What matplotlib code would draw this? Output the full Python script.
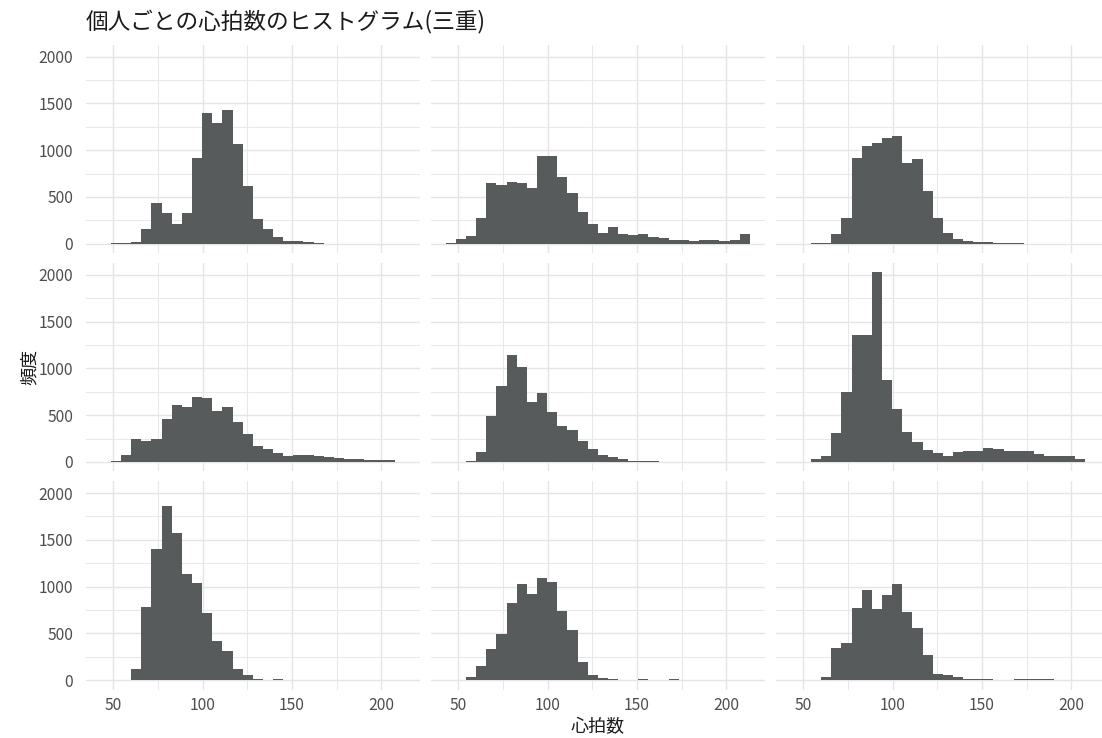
import numpy as np
import matplotlib.pyplot as plt
from matplotlib.ticker import MultipleLocator

plt.rcParams['font.family'] = ['Noto Sans CJK JP', 'DejaVu Sans']

# shared bins (30 bins over the pooled range, same for every panel)
bin_start = 43.0
bin_width = 5.67
n_bins = 30

# counts per bin, one list per person
p1 = [0, 5, 11, 21, 154, 432, 332, 207, 332, 914, 1393, 1289, 1425, 1064, 618,
      261, 154, 75, 29, 25, 14, 7, 0, 0, 0, 0, 0, 0, 0, 0]
p2 = [7, 46, 82, 271, 645, 624, 663, 645, 592, 941, 938, 717, 545, 342, 210,
      118, 182, 103, 89, 103, 71, 57, 36, 36, 29, 36, 36, 25, 36, 107]
p3 = [0, 0, 7, 11, 107, 271, 916, 1045, 1080, 1134, 1155, 866, 902, 567, 278,
      118, 46, 25, 14, 14, 7, 4, 4, 0, 0, 0, 0, 0, 0, 0]
p4 = [4, 11, 79, 240, 219, 244, 459, 613, 591, 692, 685, 549, 591, 427, 294,
      168, 140, 97, 68, 79, 79, 61, 54, 47, 32, 36, 22, 18, 22, 4]
p5 = [0, 0, 7, 111, 491, 817, 1143, 1014, 645, 735, 534, 380, 337, 229, 143,
      75, 54, 29, 14, 14, 7, 4, 4, 4, 2, 0, 0, 0, 0, 0]
p6 = [0, 4, 29, 68, 312, 749, 1362, 1355, 2029, 878, 566, 315, 208, 129, 100,
      68, 104, 115, 118, 147, 136, 122, 122, 122, 82, 65, 68, 61, 32, 4]
p7 = [0, 0, 4, 118, 779, 1400, 1857, 1575, 1136, 1036, 721, 414, 314, 121, 57,
      14, 4, 7, 4, 4, 0, 0, 0, 0, 0, 0, 0, 0, 0, 0]
p8 = [0, 4, 29, 154, 329, 496, 825, 1025, 921, 1089, 1054, 736, 539, 193, 54,
      18, 7, 4, 4, 7, 4, 4, 7, 4, 0, 0, 0, 0, 0, 0]
p9 = [0, 0, 4, 29, 339, 393, 771, 961, 761, 911, 1029, 729, 554, 264, 64,
      50, 29, 14, 7, 11, 4, 4, 7, 7, 7, 7, 4, 4, 4, 0]
panels = [p1, p2, p3, p4, p5, p6, p7, p8, p9]

title = "個人ごとの心拍数のヒストグラム(三重)"
xlabel = "心拍数"
ylabel = "頻度"
xticks = [50, 100, 150, 200]
yticks = [0, 500, 1000, 1500, 2000]

edges = bin_start + bin_width * np.arange(n_bins + 1)
span = edges[-1] - edges[0]
xlim = (edges[0] - 0.05 * span, edges[-1] + 0.05 * span)
ymax = max(max(p) for p in panels)
ylim = (-0.05 * ymax, 1.05 * ymax)

W, H = 1102, 738
fig = plt.figure(figsize=(W / 100, H / 100), dpi=100)

lefts = [85.6, 430.6, 775.6]
tops = [44.5, 262.7, 480.9]
pw, ph = 334.4, 208.7

for i, cnt in enumerate(panels):
    r, c = divmod(i, 3)
    ax = fig.add_axes([lefts[c] / W, 1 - (tops[r] + ph) / H, pw / W, ph / H])
    ax.bar(edges[:-1], cnt, width=np.diff(edges), align='edge',
           color='#585B5C', linewidth=0)
    ax.set_xlim(xlim)
    ax.set_ylim(ylim)
    ax.set_xticks(xticks)
    ax.set_yticks(yticks)
    ax.xaxis.set_minor_locator(MultipleLocator(25))
    ax.yaxis.set_minor_locator(MultipleLocator(250))
    ax.grid(which='major', color='#E5E5E5', linewidth=1.0)
    ax.grid(which='minor', color='#E8E8E8', linewidth=0.75)
    ax.set_axisbelow(True)
    for s in ax.spines.values():
        s.set_visible(False)
    ax.tick_params(which='both', length=0, labelsize=11.3, labelcolor='#4D4D4D',
                   labelbottom=(r == 2), labelleft=(c == 0))
    ax.tick_params(axis='y', pad=9)
    ax.tick_params(axis='x', pad=5)

fig.text(85.6 / W, 1 - 22 / H, title, ha='left', va='center', fontsize=16.3,
         color='#1A1A1A')
fig.text((lefts[0] + lefts[2] + pw) / 2 / W, 1 - 727 / H, xlabel,
         ha='center', va='center', fontsize=13, color='#1A1A1A')
fig.text(30 / W, 1 - (tops[0] + tops[2] + ph) / 2 / H, ylabel,
         ha='center', va='center', rotation=90, fontsize=13, color='#1A1A1A')

fig.savefig('out.png', dpi=100)
